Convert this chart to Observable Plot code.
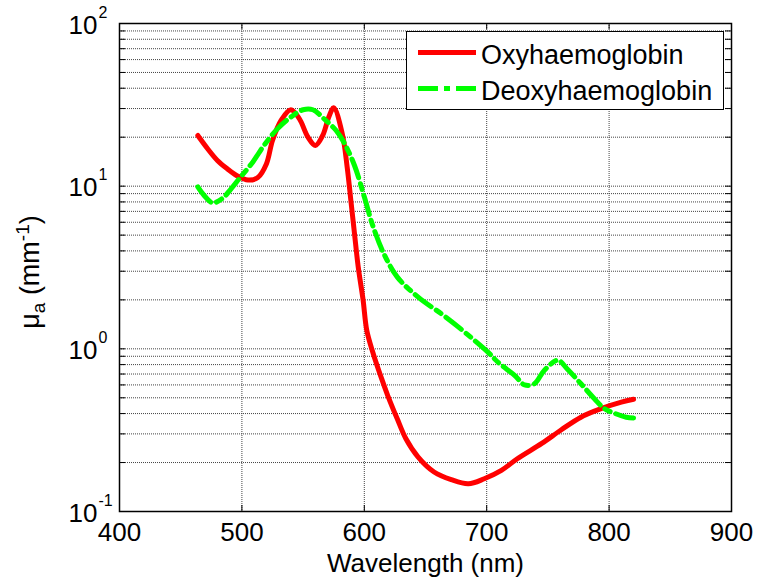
<!DOCTYPE html>
<html><head><meta charset="utf-8">
<script src="https://cdn.jsdelivr.net/npm/d3@7"></script>
<script src="https://cdn.jsdelivr.net/npm/@observablehq/plot@0.6"></script>
<style>
body{margin:0;background:#fff;}
#wrap{position:relative;width:757px;height:583px;font-family:"Liberation Sans",Arial,sans-serif;}
#legend{position:absolute;left:406px;top:31px;width:316px;height:77px;border:1px solid #000;background:#fff;}
#legend svg{position:absolute;left:0;top:0;}
</style></head><body><div id="wrap"></div>
<script>
// ---- data ----
const oxyWl = [464, 472, 480, 488, 496, 505, 513, 520, 525, 532, 540, 547, 554, 560, 566, 571, 575, 582, 586, 589, 592, 595, 599, 602, 607, 614, 619, 627, 634, 644, 657, 671, 685, 698, 712, 725, 745, 761, 777, 794, 810, 820];
const oxyMu = [20.5, 17.0, 14.4, 12.8, 11.6, 10.9, 11.3, 13.7, 19.1, 25.4, 29.5, 25.9, 20.0, 17.8, 20.5, 26.6, 30.3, 21.0, 13.1, 8.2, 5.1, 3.2, 2.0, 1.3, 0.95, 0.66, 0.52, 0.37, 0.28, 0.216, 0.175, 0.157, 0.148, 0.159, 0.179, 0.211, 0.262, 0.318, 0.38, 0.43, 0.47, 0.49];
const deoxyWl = [464, 469, 476, 484, 491, 499, 509, 518, 529, 540, 550, 558, 567, 577, 584, 592, 600, 607, 616, 627, 644, 663, 677, 701, 709, 723, 731, 739, 747, 758, 766, 777, 788, 796, 805, 814, 820];
const deoxyMu = [9.9, 8.8, 7.9, 8.4, 9.6, 11.4, 14.1, 17.8, 22.5, 26.6, 29.5, 29.5, 26.0, 22.0, 18.2, 13.4, 8.6, 5.7, 3.84, 2.76, 2.08, 1.64, 1.36, 0.955, 0.83, 0.685, 0.60, 0.61, 0.736, 0.85, 0.75, 0.61, 0.493, 0.43, 0.40, 0.38, 0.376];
const seriesNames = ["Oxyhaemoglobin", "Deoxyhaemoglobin"];
const xTicks = [400, 500, 600, 700, 800, 900];
const xGrid = [500, 600, 700, 800];
const yMajor = [0.1, 1, 10, 100];
const yExponents = ["-1", "0", "1", "2"];
const yMinorMult = [2, 3, 4, 5, 6, 7, 8, 9];
const xLabel = "Wavelength (nm)";

const oxy = oxyWl.map((w, i) => ({wl: w, mu: oxyMu[i]}));
const deoxy = deoxyWl.map((w, i) => ({wl: w, mu: deoxyMu[i]}));
const yGrid = [];
[0.1, 1, 10].forEach(d => { yGrid.push(d); yMinorMult.forEach(m => yGrid.push(+(d * m).toPrecision(3))); });
yGrid.push(100);
const yInner = yGrid.filter(v => v > 0.1 && v < 100);

const W = 757, H = 583, mL = 119, mT = 23, mR = 26, mB = 72;
const plotW = W - mL - mR, plotH = H - mT - mB, tickLen = 6;
const font = "Liberation Sans, Arial, sans-serif";
const gridStyle = {stroke: "#444", strokeDasharray: "1,1", strokeWidth: 1};

const chart = Plot.plot({
  width: W, height: H, marginLeft: mL, marginTop: mT, marginRight: mR, marginBottom: mB,
  style: {fontFamily: font, fontSize: "26px", color: "#000", background: "#fff", overflow: "visible"},
  x: {domain: [400, 900], label: null},
  y: {type: "log", domain: [0.1, 100], label: null},
  marks: [
    Plot.ruleX(xGrid, {x: d => d, ...gridStyle}),
    Plot.ruleY(yInner, {y: d => d, ...gridStyle}),
    Plot.line(oxy, {x: "wl", y: "mu", stroke: "#ff0000", strokeWidth: 5, curve: "catmull-rom"}),
    Plot.line(deoxy, {x: "wl", y: "mu", stroke: "#00ff00", strokeWidth: 5, strokeDasharray: "20,6,6,6", curve: "catmull-rom"}),
    Plot.tickY(yGrid, {y: d => d, insetRight: plotW - tickLen, stroke: "#000", strokeWidth: 1}),
    Plot.tickY(yGrid, {y: d => d, insetLeft: plotW - tickLen, stroke: "#000", strokeWidth: 1}),
    Plot.tickX(xTicks, {x: d => d, insetTop: plotH - tickLen, stroke: "#000", strokeWidth: 1}),
    Plot.tickX(xTicks, {x: d => d, insetBottom: plotH - tickLen, stroke: "#000", strokeWidth: 1}),
    Plot.frame({stroke: "#000", strokeWidth: 1.5}),
    Plot.axisX({ticks: xTicks, tickSize: 0, tickPadding: 11, fontSize: 26, label: null}),
    Plot.axisY({ticks: yMajor, tickSize: 0, tickPadding: 22, tickFormat: () => "10", dy: 2, fontSize: 26, label: null}),
    Plot.text(yMajor, {y: d => d, frameAnchor: "left", dx: -21, dy: -11, text: (d, i) => yExponents[i], textAnchor: "start", fontSize: 16}),
    Plot.text([xLabel], {frameAnchor: "bottom", text: d => d, dy: 60, lineAnchor: "bottom", fontSize: 26})
  ]
});

const wrap = document.getElementById("wrap");
wrap.appendChild(chart);

// rotated y-axis label with subscript/superscript
const svg = d3.select(chart);
const yl = svg.append("text")
  .attr("transform", `translate(39,272) rotate(-90)`)
  .attr("text-anchor", "middle")
  .attr("font-family", font)
  .attr("font-size", 27)
  .attr("fill", "#000");
yl.append("tspan").text("μ");
yl.append("tspan").attr("font-size", 19).attr("dy", 6).text("a");
yl.append("tspan").attr("dy", -6).text(" (mm");
yl.append("tspan").attr("font-size", 19).attr("dy", -10).text("-1");
yl.append("tspan").attr("dy", 10).text(")");

// legend
const leg = document.createElement("div");
leg.id = "legend";
wrap.appendChild(leg);
const ls = d3.select(leg).append("svg").attr("width", 316).attr("height", 77);
const legendItems = [
  {name: seriesNames[0], color: "#ff0000", dash: null, y: 20.5},
  {name: seriesNames[1], color: "#00ff00", dash: "20,6,6,6", y: 56.5}
];
legendItems.forEach(it => {
  ls.append("line").attr("x1", 11).attr("x2", 69).attr("y1", it.y).attr("y2", it.y)
    .attr("stroke", it.color).attr("stroke-width", 5).attr("stroke-dasharray", it.dash);
  ls.append("text").attr("x", 74).attr("y", it.y + 11).attr("font-family", font)
    .attr("font-size", 27).attr("fill", "#000").text(it.name);
});
</script></body></html>
